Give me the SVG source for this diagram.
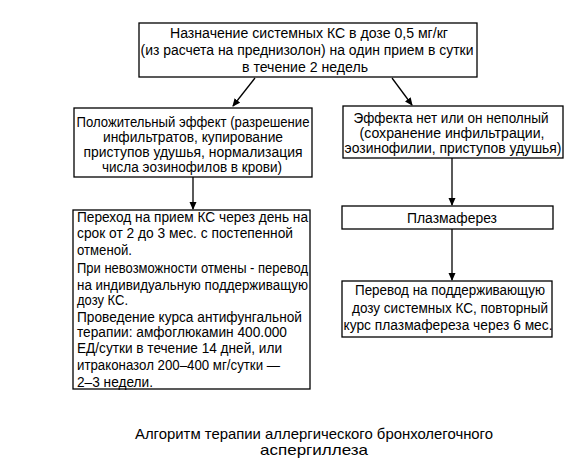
<svg xmlns="http://www.w3.org/2000/svg" width="588" height="458" viewBox="0 0 588 458">
<style>
.box{fill:#fff;stroke:#000;stroke-width:1.3}
.t{font-family:"Liberation Sans",Arial,sans-serif;font-size:14px;fill:#000}
.c{text-anchor:middle}
.ln{stroke:#000;stroke-width:1.3;fill:none}
</style>
<defs>
<marker id="ah" markerWidth="8" markerHeight="8" refX="7" refY="4" orient="auto" markerUnits="userSpaceOnUse">
<path d="M0,0.5 L8,4 L0,7.5 Z" fill="#000"/>
</marker>
</defs>
<rect width="588" height="458" fill="#fff"/>
<g id="connectors">
<line class="ln" x1="255" y1="78" x2="233" y2="106" marker-end="url(#ah)"/>
<line class="ln" x1="392" y1="78" x2="412" y2="105" marker-end="url(#ah)"/>
<line class="ln" x1="193" y1="177" x2="193" y2="209" marker-end="url(#ah)"/>
<line class="ln" x1="452" y1="158" x2="452" y2="205" marker-end="url(#ah)"/>
<line class="ln" x1="452" y1="229" x2="452" y2="280" marker-end="url(#ah)"/>
</g>
<g id="n1">
<rect class="box" x="139" y="23" width="338" height="54"/>
<text class="t c" x="309" y="38" textLength="278" lengthAdjust="spacingAndGlyphs">Назначение системных КС в дозе 0,5 мг/кг</text>
<text class="t c" x="307" y="55" textLength="333" lengthAdjust="spacingAndGlyphs">(из расчета на преднизолон) на один прием в сутки</text>
<text class="t c" x="305" y="72" textLength="126" lengthAdjust="spacingAndGlyphs">в течение 2 недель</text>
</g>
<g id="n2">
<rect class="box" x="74" y="108" width="238" height="69"/>
<text class="t c" x="193" y="127" textLength="233" lengthAdjust="spacingAndGlyphs">Положительный эффект (разрешение</text>
<text class="t c" x="193" y="142" textLength="180" lengthAdjust="spacingAndGlyphs">инфильтратов, купирование</text>
<text class="t c" x="193" y="157" textLength="219" lengthAdjust="spacingAndGlyphs">приступов удушья, нормализация</text>
<text class="t c" x="192" y="172" textLength="180" lengthAdjust="spacingAndGlyphs">числа эозинофилов в крови)</text>
</g>
<g id="n3">
<rect class="box" x="343" y="106" width="220" height="52"/>
<text class="t c" x="451" y="123" textLength="195" lengthAdjust="spacingAndGlyphs">Эффекта нет или он неполный</text>
<text class="t c" x="452" y="138" textLength="185" lengthAdjust="spacingAndGlyphs">(сохранение инфильтрации,</text>
<text class="t c" x="453" y="153" textLength="217" lengthAdjust="spacingAndGlyphs">эозинофилии, приступов удушья)</text>
</g>
<g id="n4">
<rect class="box" x="73" y="210" width="237" height="179"/>
<text class="t" x="77" y="222" textLength="231" lengthAdjust="spacingAndGlyphs">Переход на прием КС через день на</text>
<text class="t" x="77" y="238" textLength="216" lengthAdjust="spacingAndGlyphs">срок от 2 до 3 мес. с постепенной</text>
<text class="t" x="77" y="255" textLength="55" lengthAdjust="spacingAndGlyphs">отменой.</text>
<text class="t" x="77" y="273" textLength="231" lengthAdjust="spacingAndGlyphs">При невозможности отмены - перевод</text>
<text class="t" x="77" y="290" textLength="231" lengthAdjust="spacingAndGlyphs">на индивидуальную поддерживащую</text>
<text class="t" x="77" y="305" textLength="51" lengthAdjust="spacingAndGlyphs">дозу КС.</text>
<text class="t" x="77" y="322" textLength="225" lengthAdjust="spacingAndGlyphs">Проведение курса антифунгальной</text>
<text class="t" x="77" y="337" textLength="210" lengthAdjust="spacingAndGlyphs">терапии: амфоглюкамин 400.000</text>
<text class="t" x="77" y="353" textLength="205" lengthAdjust="spacingAndGlyphs">ЕД/сутки в течение 14 дней, или</text>
<text class="t" x="77" y="370" textLength="203" lengthAdjust="spacingAndGlyphs">итраконазол 200–400 мг/сутки —</text>
<text class="t" x="77" y="387" textLength="76" lengthAdjust="spacingAndGlyphs">2–3 недели.</text>
</g>
<g id="n5">
<rect class="box" x="342" y="206" width="211" height="23"/>
<text class="t c" x="452" y="223" textLength="90" lengthAdjust="spacingAndGlyphs">Плазмаферез</text>
</g>
<g id="n6">
<rect class="box" x="342" y="281" width="210" height="56"/>
<text class="t c" x="450" y="295" textLength="190" lengthAdjust="spacingAndGlyphs">Перевод на поддерживающую</text>
<text class="t c" x="450" y="313" textLength="196" lengthAdjust="spacingAndGlyphs">дозу системных КС, повторный</text>
<text class="t c" x="448" y="330" textLength="209" lengthAdjust="spacingAndGlyphs">курс плазмафереза через 6 мес.</text>
</g>
<g id="caption">
<text class="t c" x="314" y="439" style="font-size:15px" textLength="358" lengthAdjust="spacingAndGlyphs">Алгоритм терапии аллергического бронхолегочного</text>
<text class="t c" x="314" y="455" style="font-size:15px" textLength="108" lengthAdjust="spacingAndGlyphs">аспергиллеза</text>
</g>
</svg>
